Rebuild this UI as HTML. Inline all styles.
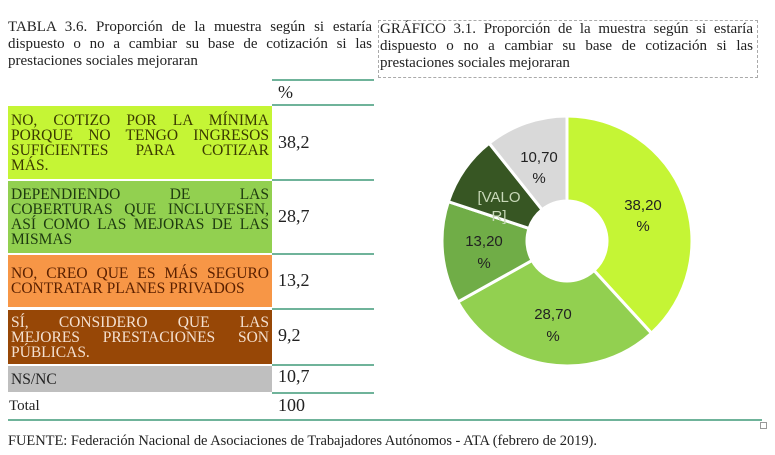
<!DOCTYPE html>
<html><head><meta charset="utf-8"><style>
body{margin:0;width:775px;height:455px;background:#fff;position:relative;overflow:hidden;font-family:"Liberation Serif",serif;color:#222}
.a{position:absolute}
.j{display:block;text-align:justify;text-align-last:justify;white-space:nowrap;}
.jl{display:block;white-space:nowrap}
.t{font-size:15px;line-height:17px}
.cell{position:absolute;left:8px;width:258px;padding:0 3px;font-size:15.5px;line-height:15px;display:flex;align-items:center}
.cell>div{width:100%}
.cell .j{white-space:normal}
.v{position:absolute;left:278px;font-size:18px}
.ln{position:absolute;height:2px;background:#6fb39a}
</style></head><body>
<div class="a t" style="left:8px;top:19px;width:364px"><span class="j">TABLA 3.6. Proporción de la muestra según si estaría</span><span class="j">dispuesto o no a cambiar su base de cotización si las</span><span class="jl">prestaciones sociales mejoraran</span></div>
<div class="a" style="left:378px;top:20px;width:378px;height:56px;border:1px dashed #aaa"></div>
<div class="a t" style="left:380px;top:21px;width:373px"><span class="j">GRÁFICO 3.1. Proporción de la muestra según si estaría</span><span class="j">dispuesto o no a cambiar su base de cotización si las</span><span class="jl">prestaciones sociales mejoraran</span></div>

<div class="ln" style="left:272px;top:79px;width:102px"></div>
<div class="v" style="top:82px">%</div>
<div class="ln" style="left:272px;top:104px;width:102px"></div>

<div class="cell" style="top:106px;height:73px;background:#c5f535;color:#3a3a00"><div><span class="j">NO, COTIZO POR LA MÍNIMA</span><span class="j">PORQUE NO TENGO INGRESOS</span><span class="j">SUFICIENTES PARA COTIZAR</span><span class="jl">MÁS.</span></div></div>
<div class="v" style="top:132px">38,2</div>
<div class="ln" style="left:272px;top:179px;width:102px"></div>

<div class="cell" style="top:181px;height:72px;background:#92d050;color:#1e3a10"><div><span class="j">DEPENDIENDO DE LAS</span><span class="j">COBERTURAS QUE INCLUYESEN,</span><span class="j">ASÍ COMO LAS MEJORAS DE LAS</span><span class="jl">MISMAS</span></div></div>
<div class="v" style="top:206px">28,7</div>
<div class="ln" style="left:272px;top:253px;width:102px"></div>

<div class="cell" style="top:255px;height:52px;background:#f79646;color:#5a2000"><div><span class="j">NO, CREO QUE ES MÁS SEGURO</span><span class="jl">CONTRATAR PLANES PRIVADOS</span></div></div>
<div class="v" style="top:270px">13,2</div>
<div class="ln" style="left:272px;top:308px;width:102px"></div>

<div class="cell" style="top:310px;height:54px;background:#974706;color:#f4e0d0"><div><span class="j">SÍ, CONSIDERO QUE LAS</span><span class="j">MEJORES PRESTACIONES SON</span><span class="jl">PÚBLICAS.</span></div></div>
<div class="v" style="top:325px">9,2</div>
<div class="ln" style="left:272px;top:364px;width:102px"></div>

<div class="cell" style="top:366px;height:26px;background:#bfbfbf;color:#222"><div>NS/NC</div></div>
<div class="v" style="top:366px">10,7</div>
<div class="ln" style="left:272px;top:392px;width:102px"></div>

<div class="a" style="left:9px;top:398px;font-size:15px">Total</div>
<div class="v" style="top:395px">100</div>
<div class="ln" style="left:8px;top:419px;width:754px"></div>
<div class="a" style="left:760px;top:422px;width:5px;height:5px;border:1px solid #999"></div>

<div class="a" style="left:8px;top:433px;font-size:14.5px;letter-spacing:-0.05px">FUENTE: Federación Nacional de Asociaciones de Trabajadores Autónomos - ATA (febrero de 2019).</div>

<svg class="a" style="left:0;top:0" width="775" height="455" id="s"></svg>
<script>
var cx=567,cy=241,R=125,r=40;
var d=[[38.2,'#c5f535'],[28.7,'#92d050'],[13.2,'#70ad47'],[9.2,'#375623'],[10.7,'#d9d9d9']];
var s=document.getElementById('s'),a0=0,h='';
function p(a,rr){a=a*Math.PI/180;return (cx+rr*Math.sin(a)).toFixed(2)+' '+(cy-rr*Math.cos(a)).toFixed(2);}
d.forEach(function(e){var a1=a0+e[0]*3.6,l=(a1-a0)>180?1:0;
h+='<path d="M'+p(a0,r)+' L'+p(a0,R)+' A'+R+' '+R+' 0 '+l+' 1 '+p(a1,R)+' L'+p(a1,r)+' A'+r+' '+r+' 0 '+l+' 0 '+p(a0,r)+' Z" fill="'+e[1]+'" stroke="#fff" stroke-width="3"/>';a0=a1;});
var L=[[643,210,'38,20'],[643,231,'%'],[553,319,'28,70'],[553,341,'%'],[484,246,'13,20'],[484,268,'%'],[539,162,'10,70'],[539,183,'%']];
L.forEach(function(t){h+='<text x="'+t[0]+'" y="'+t[1]+'" text-anchor="middle" font-family="Liberation Sans,sans-serif" font-size="15" fill="#222">'+t[2]+'</text>';});
h+='<text x="499" y="202" text-anchor="middle" font-family="Liberation Sans,sans-serif" font-size="15" fill="#c8d8b8">[VALO</text><text x="499" y="221" text-anchor="middle" font-family="Liberation Sans,sans-serif" font-size="15" fill="#c8d8b8">R]</text>';
s.innerHTML=h;
</script>
</body></html>
